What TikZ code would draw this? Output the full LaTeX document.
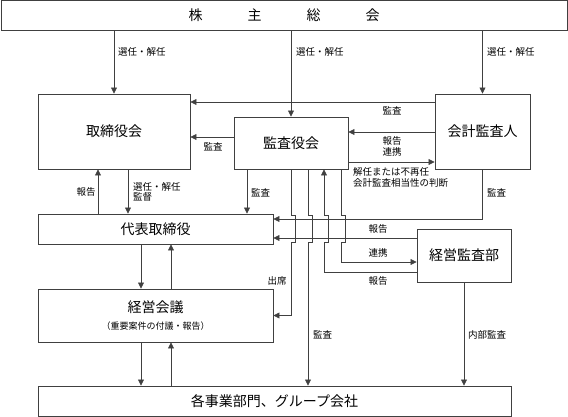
\documentclass[tikz,border=0pt]{standalone}
\usepackage{fontspec}
\setmainfont{Noto Sans CJK JP}
\usetikzlibrary{arrows.meta}
\begin{document}
\begin{tikzpicture}[x=1pt,y=-1pt,
  box/.style={draw=black!75, line width=0.9pt, inner sep=0pt, font=\fontsize{14}{16}\selectfont},
  lbl/.style={font=\fontsize{9.5}{10.5}\selectfont, inner sep=0pt, align=left},
  arr/.style={draw=black!75, line width=0.7pt, -{Triangle[length=6pt,width=6pt]}}]
\useasboundingbox (0,0) rectangle (568,417);
\def\jt{215}
\def\jb{242}
\def\jw{4}
\node[box, minimum width=566pt, minimum height=30pt] (soukai) at (284,15.6) {株\hspace{45pt}主\hspace{45pt}総\hspace{45pt}会};
\node[box, minimum width=152pt, minimum height=75pt] (torikai) at (114,131.5) {取締役会};
\node[box, minimum width=114pt, minimum height=52pt] (kansa) at (291,143) {監査役会};
\node[box, minimum width=95pt, minimum height=75pt] (kaikei) at (482.5,131.5) {会計監査人};
\node[box, minimum width=235pt, minimum height=30pt] (daihyo) at (155.5,229) {代表取締役};
\node[box, minimum width=235pt, minimum height=53pt, align=center] (keikai) at (155.5,315.5) {経営会議\\[1pt]{\fontsize{9}{10}\selectfont （重要案件の付議・報告）}};
\node[box, minimum width=94pt, minimum height=53pt] (kbu) at (464,255.5) {経営監査部};
\node[box, minimum width=473pt, minimum height=30pt] (kakuji) at (274.5,401) {各事業部門、グループ会社};

% edges
\draw[arr] (soukai.south -| torikai.north) -- (torikai.north); % 選任・解任
\draw[arr] (soukai.south -| kansa.north) -- (kansa.north);
\draw[arr] (soukai.south -| kaikei.north) -- (kaikei.north);
\draw[arr] (kaikei.west |- 0,102) -- (torikai.east |- 0,102); % 監査
\draw[arr] (kansa.west |- 0,137) -- (torikai.east |- 0,137); % 監査
\draw[arr] (kaikei.west |- 0,132) -- (kansa.east |- 0,132); % 報告・連携
\draw[arr] (kansa.east |- 0,162) -- (kaikei.west |- 0,162); % 解任または不再任
\draw[arr] (daihyo.north -| 98,0) -- (torikai.south -| 98,0); % 報告
\draw[arr] (torikai.south -| 128,0) -- (daihyo.north -| 128,0); % 選任・解任、監督
\draw[arr] (kansa.south -| 247,0) -- (daihyo.north -| 247,0); % 監査
\draw[arr] (kaikei.south) |- (daihyo.east |- 0,219); % 監査
\draw[arr] (kbu.west |- 0,238) -- (daihyo.east |- 0,238); % 報告
\draw[arr] (daihyo.south -| 141,0) -- (keikai.north -| 141,0);
\draw[arr] (keikai.north -| 171,0) -- (daihyo.south -| 171,0);
\draw[arr] (keikai.south -| 141,0) -- (kakuji.north -| 141,0);
\draw[arr] (kakuji.north -| 171,0) -- (keikai.south -| 171,0);
% lines out of 監査役会, with jumps
\draw[arr] (kansa.south -| 291,0) -- (291,\jt) -- ++(\jw,0) -- (291+\jw,\jb) -- (291,\jb) |- (keikai.east); % 出席
\draw[arr] (kansa.south -| 308,0) -- (308,\jt) -- ++(\jw,0) -- (308+\jw,\jb) -- (308,\jb) -- (kakuji.north -| 308,0); % 監査
\draw[arr] (kbu.west |- 0,272) -| (324,\jb) -- ++(\jw,0) -- (324+\jw,\jt) -- (324,\jt) -- (kansa.south -| 324,0); % 報告
\draw[arr] (kansa.south -| 341,0) -- (341,\jt) -- ++(\jw,0) -- (341+\jw,\jb) -- (341,\jb) |- (kbu.west |- 0,262); % 連携
\draw[arr] (kbu.south) -- (kakuji.north -| kbu.south); % 内部監査

% labels
\node[lbl, anchor=west] (l1) at (118,52) {選任・解任};
\node[lbl, anchor=west] (l2) at (296,52) {選任・解任};
\node[lbl, anchor=west] (l3) at (487,52) {選任・解任};
\node[lbl] (l4) at (392,111) {監査};
\node[lbl] (l5) at (213,147) {監査};
\node[lbl, align=center] (l6) at (392,146.5) {報告\\連携};
\node[lbl, anchor=north west] (l7) at (353,167.5) {解任または不再任\\会計監査相当性の判断};
\node[lbl] (l8) at (86,192) {報告};
\node[lbl, anchor=west] (l9) at (133,192) {選任・解任\\監督};
\node[lbl, anchor=west] (l10) at (251,193) {監査};
\node[lbl, anchor=west] (l11) at (487,193) {監査};
\node[lbl] (l12) at (378,229) {報告};
\node[lbl] (l13) at (378,253) {連携};
\node[lbl] (l14) at (378,281) {報告};
\node[lbl] (l15) at (277,281) {出席};
\node[lbl, anchor=west] (l16) at (313,335) {監査};
\node[lbl, anchor=west] (l17) at (468,335) {内部監査};
\end{tikzpicture}
\end{document}
